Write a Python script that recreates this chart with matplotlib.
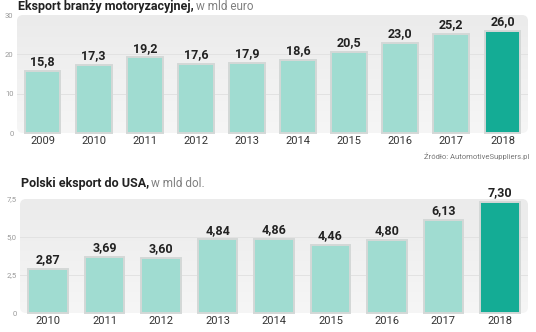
import matplotlib
matplotlib.use("Agg")
import matplotlib.pyplot as plt
import numpy as np
from matplotlib.patches import FancyBboxPatch
from matplotlib.colors import LinearSegmentedColormap

# --- data ---
YEARS_TOP = ['2009', '2010', '2011', '2012', '2013', '2014', '2015', '2016', '2017', '2018']
VALUES_TOP = [15.8, 17.3, 19.2, 17.6, 17.9, 18.6, 20.5, 23.0, 25.2, 26.0]
YTICKS_TOP = [0, 10, 20, 30]
YTICKLABELS_TOP = ['0', '10', '20', '30']

YEARS_BOT = ['2010', '2011', '2012', '2013', '2014', '2015', '2016', '2017', '2018']
VALUES_BOT = [2.87, 3.69, 3.60, 4.84, 4.86, 4.46, 4.80, 6.13, 7.30]
YTICKS_BOT = [0, 2.5, 5.0, 7.5]
YTICKLABELS_BOT = ['0', '2,5', '5,0', '7,5']

LIGHT = '#a0dcd1'
DARK = '#14ac95'
EDGE = '#d4d8d7'
BOLD_FONT = ['Roboto', 'DejaVu Sans']
REG_FONT = ['Roboto', 'DejaVu Sans']

W, H = 536, 332
fig = plt.figure(figsize=(W / 100, H / 100), dpi=100)
fig.patch.set_facecolor('white')

grad_cmap = LinearSegmentedColormap.from_list('bg', ['#f6f6f6', '#ebebeb'])


def px_axes(left, top, right, bottom):
    return fig.add_axes([left / W, 1 - bottom / H, (right - left) / W, (bottom - top) / H])


def draw_panel(ax, years, values, yticks, yticklabels, ymax, decimals, ax_px):
    n = len(years)
    x = np.arange(n)
    ax.set_xlim(-0.5, n - 0.5)
    ax.set_ylim(0, ymax)
    ax.set_facecolor('none')
    for s in ax.spines.values():
        s.set_visible(False)

    # rounded gradient background
    wpx, hpx = ax_px
    r = 6 / wpx
    box = FancyBboxPatch((0, 0), 1, 1, boxstyle=f"round,pad=0,rounding_size={r}",
                         mutation_aspect=wpx / hpx, transform=ax.transAxes,
                         facecolor='none', edgecolor='none')
    ax.add_patch(box)
    grad = np.linspace(0, 1, 256).reshape(-1, 1)
    im = ax.imshow(grad, extent=[0, 1, 1, 0], transform=ax.transAxes,
                   cmap=grad_cmap, aspect='auto', zorder=0)
    im.set_clip_path(box)

    for t in yticks[1:-1]:
        ax.axhline(t, color='#e2e2e2', lw=0.7, zorder=1)

    colors = [LIGHT] * (n - 1) + [DARK]
    ax.bar(x, values, width=0.7, color=colors, edgecolor=EDGE, linewidth=1.4,
           zorder=2, clip_on=False)

    for xi, v in zip(x, values):
        lab = f"{v:.{decimals}f}".replace('.', ',')
        ax.annotate(lab, (xi, v), xytext=(0, 2), textcoords='offset points',
                    ha='center', va='bottom', fontsize=9, fontweight='bold',
                    family=BOLD_FONT, color='#222222')

    ax.set_xticks(x)
    ax.set_xticklabels(years, family=REG_FONT, fontsize=8, color='#333333')
    ax.set_yticks(yticks)
    ax.set_yticklabels(yticklabels, family=REG_FONT, fontsize=5.5, color='#999999')
    ax.tick_params(axis='x', length=0, pad=2)
    ax.tick_params(axis='y', length=0, pad=2.5)


ax1 = px_axes(17, 15, 528, 133)
draw_panel(ax1, YEARS_TOP, VALUES_TOP, YTICKS_TOP, YTICKLABELS_TOP, 30, 1, (511, 118))

ax2 = px_axes(20, 199, 528, 313)
draw_panel(ax2, YEARS_BOT, VALUES_BOT, YTICKS_BOT, YTICKLABELS_BOT, 7.5, 2, (508, 114))


def title(xpx, ypx, bold, rest):
    t = fig.text(xpx / W, 1 - ypx / H, bold, fontsize=9, fontweight='bold',
                 family=BOLD_FONT, color='#222222', va='baseline', ha='left')
    fig.canvas.draw()
    bb = t.get_window_extent()
    fig.text(bb.x1 / W + 2 / W, 1 - ypx / H, rest, fontsize=8.5, family=REG_FONT,
             color='#808080', va='baseline', ha='left')


title(18, 10, 'Eksport branży motoryzacyjnej,', 'w mld euro')
title(21, 187, 'Polski eksport do USA,', 'w mld dol.')

fig.text(529 / W, 1 - 159 / H, 'Źródło: AutomotiveSuppliers.pl', fontsize=5.5,
         family=REG_FONT, color='#777777', ha='right', va='baseline')

fig.savefig('out.png', dpi=100)
